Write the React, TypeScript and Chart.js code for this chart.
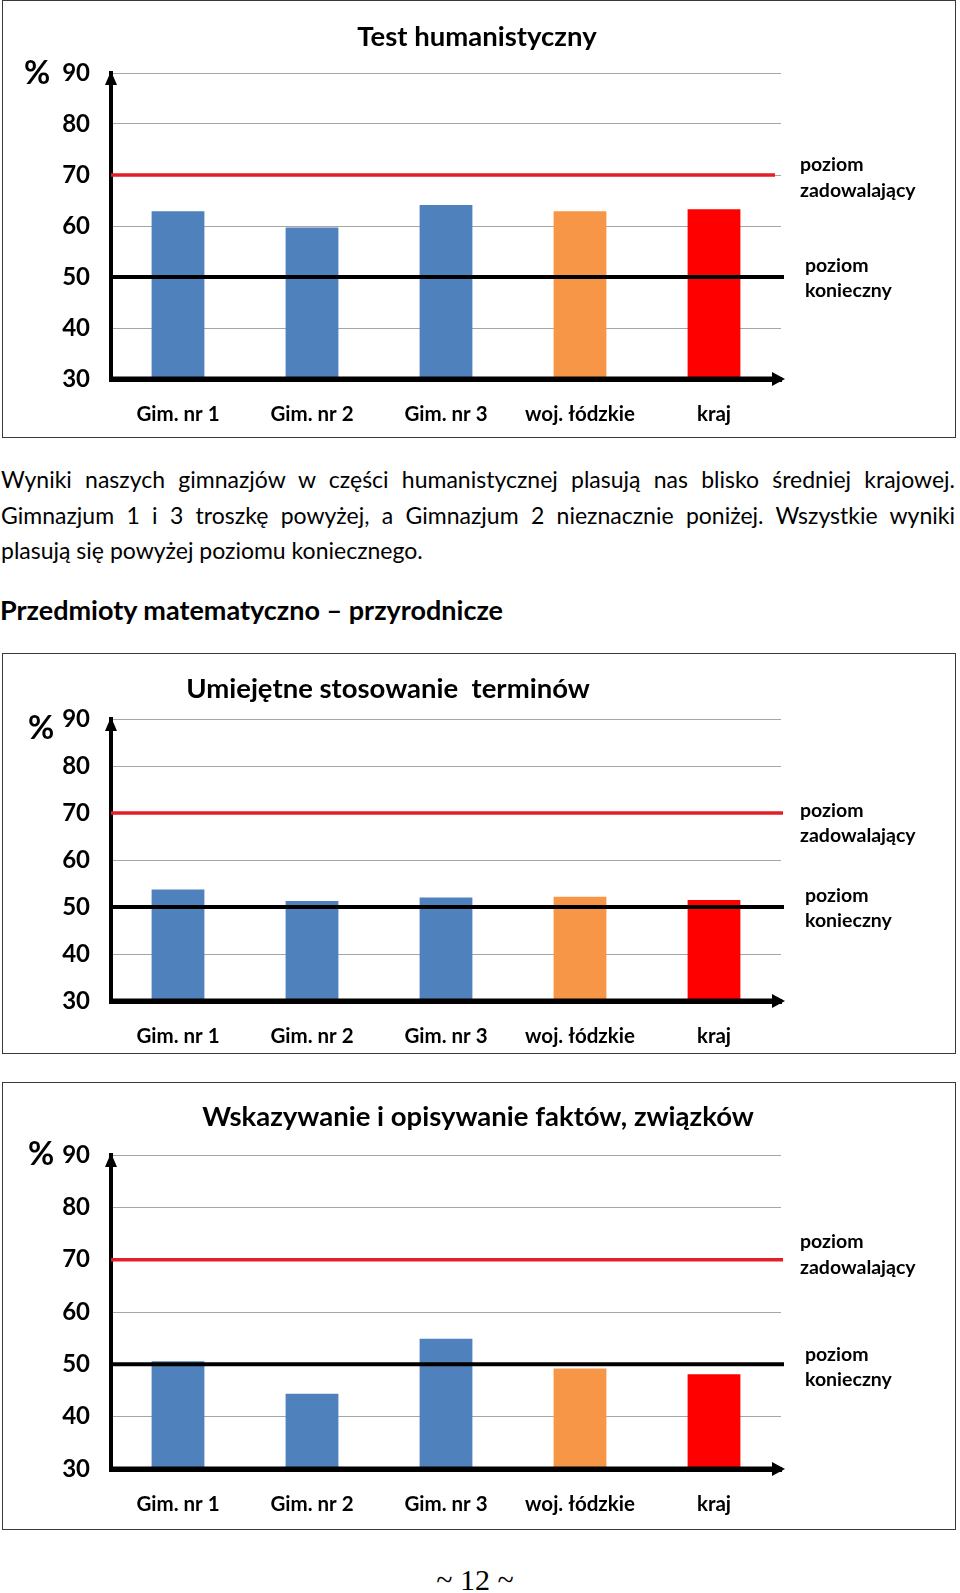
import React, { useEffect, useRef } from "react";
import { Chart, registerables } from "chart.js";

Chart.register(...registerables);

// ---------- data ----------
const categories = ["Gim. nr 1", "Gim. nr 2", "Gim. nr 3", "woj. łódzkie", "kraj"];
const yTickValues = [30, 40, 50, 60, 70, 80, 90];
const humanisticValues = [62.9, 59.7, 64.1, 62.9, 63.3];
const termsValues = [53.7, 51.3, 52.0, 52.2, 51.5];
const factsValues = [50.6, 44.4, 54.9, 49.2, 48.1];
const barColors = ["#4F81BD", "#4F81BD", "#4F81BD", "#F79646", "#FF0000"];
const satisfactoryLevel = 70;
const requiredLevel = 50;
const satisfactoryLabel = ["poziom", "zadowalający"];
const requiredLabel = ["poziom", "konieczny"];
const chartTitles = [
  "Test humanistyczny",
  "Umiejętne stosowanie  terminów",
  "Wskazywanie i opisywanie faktów, związków",
];
const paragraphLines = [
  "Wyniki naszych gimnazjów w części humanistycznej plasują nas blisko średniej krajowej.",
  "Gimnazjum 1 i 3 troszkę powyżej, a Gimnazjum 2 nieznacznie poniżej. Wszystkie wyniki",
  "plasują się powyżej poziomu koniecznego.",
];
const sectionHeading = "Przedmioty matematyczno – przyrodnicze";
const pageFooter = "~ 12 ~";

const FONT = "Lato, 'Open Sans', 'DejaVu Sans', sans-serif";

const overlayPlugin = {
  id: "overlay",
  afterDatasetsDraw(chart: any, _args: any, o: any) {
    const { ctx, chartArea } = chart;
    const { left, right, top, bottom } = chartArea;
    const y = chart.scales.y;
    ctx.save();
    // reference lines
    const yRed = y.getPixelForValue(satisfactoryLevel);
    ctx.strokeStyle = "#E41E26";
    ctx.lineWidth = 3.5;
    ctx.beginPath();
    ctx.moveTo(left, yRed);
    ctx.lineTo(right + o.redExt, yRed);
    ctx.stroke();
    const yBlack = y.getPixelForValue(requiredLevel);
    ctx.strokeStyle = "#000";
    ctx.lineWidth = 4;
    ctx.beginPath();
    ctx.moveTo(left, yBlack);
    ctx.lineTo(right + 3, yBlack);
    ctx.stroke();
    // x axis line over bars
    ctx.lineWidth = 5;
    ctx.beginPath();
    ctx.moveTo(left - 2, bottom);
    ctx.lineTo(right - 6, bottom);
    ctx.stroke();
    // arrows
    ctx.fillStyle = "#000";
    ctx.beginPath();
    ctx.moveTo(left, top - 2);
    ctx.lineTo(left - 6, top + 12);
    ctx.lineTo(left + 6, top + 12);
    ctx.closePath();
    ctx.fill();
    ctx.beginPath();
    ctx.moveTo(right + 4, bottom);
    ctx.lineTo(right - 9, bottom - 7);
    ctx.lineTo(right - 9, bottom + 7);
    ctx.closePath();
    ctx.fill();
    // texts
    ctx.fillStyle = "#000";
    ctx.textBaseline = "middle";
    ctx.textAlign = "center";
    ctx.font = `bold 27.5px ${FONT}`;
    ctx.fillText(o.title, o.titleX, o.titleY);
    ctx.font = `bold 32px ${FONT}`;
    ctx.fillText("%", o.pctX, o.pctY);
    ctx.textAlign = "left";
    ctx.font = `bold 19.5px ${FONT}`;
    ctx.fillText(satisfactoryLabel[0], o.satX, o.satY[0]);
    ctx.fillText(satisfactoryLabel[1], o.satX, o.satY[1]);
    ctx.fillText(requiredLabel[0], o.reqX, o.reqY[0]);
    ctx.fillText(requiredLabel[1], o.reqX, o.reqY[1]);
    ctx.restore();
  },
};

type Cfg = {
  top: number;
  height: number;
  areaTop: number;
  areaBottom: number;
  title: string;
  values: number[];
  titleX: number;
  titleY: number;
  pctX: number;
  pctY: number;
  satY: number[];
  reqY: number[];
  redExt: number;
};

const CANVAS_W = 952;
const AREA_LEFT = 108;
const AREA_RIGHT = 778;

function BarChart({ cfg }: { cfg: Cfg }) {
  const ref = useRef<HTMLCanvasElement | null>(null);
  useEffect(() => {
    const canvas = ref.current;
    if (!canvas) return;
    const h = cfg.height - 2;
    const chart = new Chart(canvas, {
      type: "bar",
      data: {
        labels: categories,
        datasets: [
          {
            data: cfg.values,
            backgroundColor: barColors,
            borderWidth: 0,
            barPercentage: 0.394,
            categoryPercentage: 1,
          },
        ],
      },
      plugins: [overlayPlugin],
      options: {
        animation: false,
        responsive: false,
        devicePixelRatio: 1,
        layout: {
          padding: { left: 0, right: CANVAS_W - AREA_RIGHT, top: cfg.areaTop, bottom: 0 },
        },
        plugins: {
          legend: { display: false },
          title: { display: false },
          tooltip: { enabled: false },
          overlay: {
            title: cfg.title,
            titleX: cfg.titleX,
            titleY: cfg.titleY,
            pctX: cfg.pctX,
            pctY: cfg.pctY,
            satX: 797,
            reqX: 802,
            satY: cfg.satY,
            reqY: cfg.reqY,
            redExt: cfg.redExt,
          },
        } as any,
        scales: {
          x: {
            afterFit: (s: any) => {
              s.height = h - cfg.areaBottom;
            },
            grid: { display: false, drawTicks: false },
            border: { display: true, color: "#000", width: 5 },
            ticks: {
              padding: 23,
              color: "#000",
              maxRotation: 0,
              autoSkip: false,
              font: { family: FONT, weight: "bold", size: 20.5 },
            },
          },
          y: {
            min: 30,
            max: 90,
            afterFit: (s: any) => {
              s.width = AREA_LEFT;
            },
            afterBuildTicks: (s: any) => {
              s.ticks = yTickValues.map((v) => ({ value: v }));
            },
            grid: { color: "#A6A6A6", lineWidth: 1, drawTicks: false },
            border: { display: true, color: "#000", width: 4 },
            ticks: {
              padding: 21,
              color: "#000",
              font: { family: FONT, weight: "bold", size: 24 },
            },
          },
        },
      } as any,
    });
    return () => chart.destroy();
  }, [cfg]);
  return (
    <div
      style={{
        position: "absolute",
        left: 2,
        top: cfg.top,
        width: 954,
        height: cfg.height,
        border: "1px solid #3a3a3a",
        boxSizing: "border-box",
        background: "#fff",
      }}
    >
      <canvas ref={ref} width={CANVAS_W} height={cfg.height - 2} style={{ display: "block" }} />
    </div>
  );
}

const chartCfgs: Cfg[] = [
  {
    top: 0,
    height: 438,
    areaTop: 72,
    areaBottom: 378,
    title: chartTitles[0],
    values: humanisticValues,
    titleX: 474,
    titleY: 36,
    pctX: 34,
    pctY: 73,
    satY: [164, 190],
    reqY: [265, 290],
    redExt: -6,
  },
  {
    top: 653,
    height: 401,
    areaTop: 65,
    areaBottom: 347,
    title: chartTitles[1],
    values: termsValues,
    titleX: 385,
    titleY: 35,
    pctX: 38,
    pctY: 75,
    satY: [157, 182],
    reqY: [242, 267],
    redExt: 2,
  },
  {
    top: 1082,
    height: 448,
    areaTop: 72,
    areaBottom: 386,
    title: chartTitles[2],
    values: factsValues,
    titleX: 475,
    titleY: 34,
    pctX: 38,
    pctY: 72,
    satY: [159, 185],
    reqY: [272, 297],
    redExt: 2,
  },
];

export default function App() {
  const lineStyle = (justify: boolean): React.CSSProperties => ({
    textAlign: justify ? "justify" : "left",
    textAlignLast: justify ? "justify" : "left",
    whiteSpace: "nowrap",
    height: 35.5,
    lineHeight: "35.5px",
  } as any);
  return (
    <div
      style={{
        position: "absolute",
        left: 0,
        top: 0,
        width: 960,
        height: 1593,
        background: "#fff",
        overflow: "hidden",
      }}
    >
      <BarChart cfg={chartCfgs[0]} />
      <div
        style={{
          position: "absolute",
          left: 1,
          top: 462,
          width: 954,
          fontFamily: FONT,
          fontSize: 23,
          color: "#000",
        }}
      >
        {paragraphLines.map((t, i) => (
          <div key={i} style={lineStyle(i < paragraphLines.length - 1)}>
            {t}
          </div>
        ))}
      </div>
      <div
        style={{
          position: "absolute",
          left: 0,
          top: 592,
          lineHeight: "36px",
          fontFamily: FONT,
          fontWeight: "bold",
          fontSize: 27,
          color: "#000",
          whiteSpace: "nowrap",
        }}
      >
        {sectionHeading}
      </div>
      <BarChart cfg={chartCfgs[1]} />
      <BarChart cfg={chartCfgs[2]} />
      <div
        style={{
          position: "absolute",
          left: 375,
          width: 200,
          top: 1561,
          lineHeight: "38px",
          textAlign: "center",
          fontFamily: "'Liberation Serif', 'DejaVu Serif', serif",
          fontSize: 30,
          color: "#000",
        }}
      >
        {pageFooter}
      </div>
    </div>
  );
}
